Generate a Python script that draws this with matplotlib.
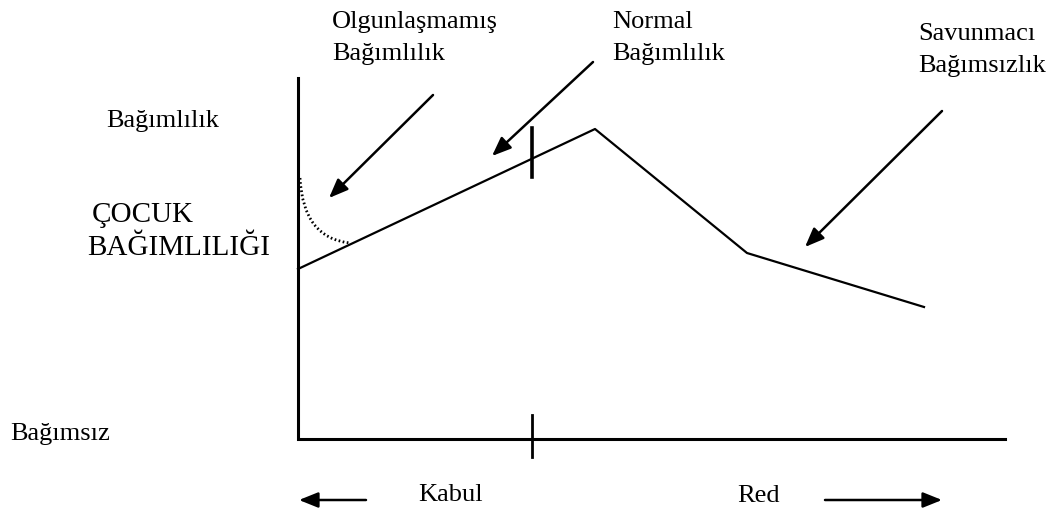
import matplotlib
matplotlib.use("Agg")
import matplotlib.pyplot as plt
from matplotlib.path import Path
from matplotlib.patches import PathPatch

# ---- data (diagram coordinates, y grows downward) ----
axis_x = [298, 298, 1005]
axis_y = [78, 439, 439]

curve_x = [298, 595, 747, 924]
curve_y = [269, 129, 253, 307]

dotted_pts = [(300, 178), (303, 238), (350, 243)]  # start, control, end

tick_x = [532, 532]
tick_line_y = [128, 177]
tick_axis_y = [415, 457]

# arrows: (tail, tip)
pointer_arrows = [((433, 95), (329, 198)),
                  ((593, 62), (492, 156)),
                  ((942, 111), (805, 247))]
direction_arrows = [((366, 500), (299, 500)),
                    ((825, 500), (942, 500))]

# labels: (text, x, baseline y, size)
labels = [("Olgunlaşmamış", 332, 28, 19),
          ("Bağımlılık", 332, 60, 19),
          ("Normal", 612, 28, 19),
          ("Bağımlılık", 612, 60, 19),
          ("Savunmacı", 918, 40, 19),
          ("Bağımsızlık", 918, 72, 19),
          ("Bağımlılık", 106, 127, 19),
          ("ÇOCUK", 92, 222, 21),
          ("BAĞIMLILIĞI", 87, 255, 21),
          ("Bağımsız", 10, 440, 19),
          ("Kabul", 418, 501, 19),
          ("Red", 737, 502, 19)]

fig = plt.figure(figsize=(10.61, 5.13), dpi=100)
ax = fig.add_axes([0, 0, 1, 1])
ax.set_xlim(0, 1061)
ax.set_ylim(513, 0)
ax.axis("off")

ax.plot(axis_x, axis_y, color="black", lw=2.2, solid_joinstyle="miter")
ax.plot(curve_x, curve_y, color="black", lw=1.6)
ax.plot(tick_x, tick_line_y, color="black", lw=2.6)
ax.plot(tick_x, tick_axis_y, color="black", lw=2.0)

path = Path(dotted_pts, [Path.MOVETO, Path.CURVE3, Path.CURVE3])
ax.add_patch(PathPatch(path, fill=False, lw=2.0, ls=(0, (0.6, 0.9)), color="black"))

style = "-|>,head_length=0.77,head_width=0.31"
for (tail, tip) in pointer_arrows + direction_arrows:
    ax.annotate("", xy=tip, xytext=tail,
                arrowprops=dict(arrowstyle=style, mutation_scale=15, lw=1.8,
                                color="black", shrinkA=0, shrinkB=0))

for txt, x, y, s in labels:
    ax.text(x, y, txt, fontsize=s, family="Liberation Serif", ha="left", va="baseline")

fig.savefig("out.png", dpi=100)
